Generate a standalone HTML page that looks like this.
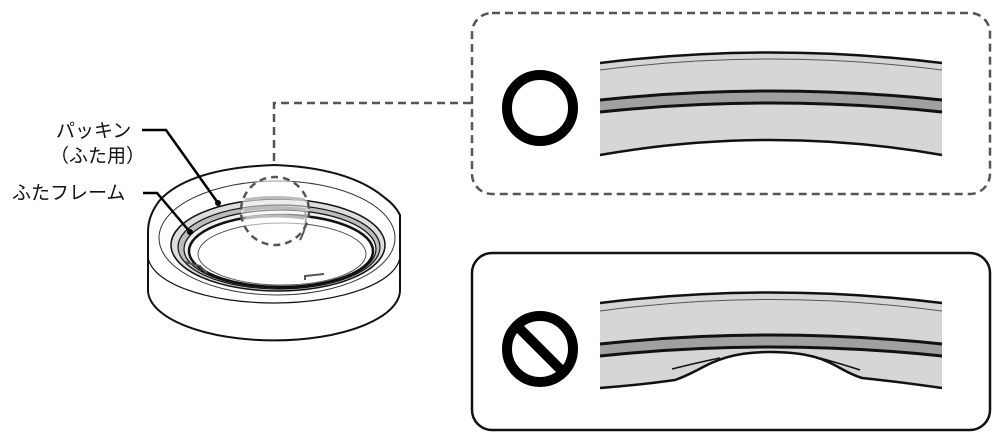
<!DOCTYPE html>
<html><head><meta charset="utf-8"><style>
html,body{margin:0;padding:0;background:#fff;width:1000px;height:444px;overflow:hidden}
text{font-family:"Liberation Sans","Noto Sans CJK JP",sans-serif;font-size:19px;fill:#111}
</style></head><body>
<svg width="1000" height="444" viewBox="0 0 1000 444" xmlns="http://www.w3.org/2000/svg">
<!-- panels -->
<rect x="472" y="13" width="518" height="181" rx="20" fill="none" stroke="#555" stroke-width="2.5" stroke-dasharray="8,5"/>
<rect x="472" y="253" width="518" height="177" rx="20" fill="none" stroke="#111" stroke-width="2.5"/>
<!-- connector -->
<polyline points="471,103 274,103 274,176" fill="none" stroke="#555" stroke-width="2.5" stroke-dasharray="8,5"/>

<!-- top band -->
<path d="M600,63 Q771,42 942,63 L942,155 Q771,125 600,155 Z" fill="#d6d6d6"/>
<path d="M600,63 Q771,42 942,63" fill="none" stroke="#111" stroke-width="2.5"/>
<path d="M600,70 Q771,48 942,70" fill="none" stroke="#555" stroke-width="1"/>
<path d="M600,100 Q771,82 942,100 L942,112 Q771,94 600,112 Z" fill="#a0a0a0"/>
<path d="M600,100 Q771,82 942,100" fill="none" stroke="#111" stroke-width="3"/>
<path d="M600,112 Q771,94 942,112" fill="none" stroke="#111" stroke-width="3"/>
<path d="M600,155 Q771,125 942,155" fill="none" stroke="#111" stroke-width="2.5"/>

<!-- bottom band -->
<path d="M600,303 Q771,282 942,303 L942,388 Q900,382 862,378 C835,370 830,352 770,352 C715,352 705,370 675,380 Q640,385 600,388 Z" fill="#d6d6d6"/>
<path d="M600,303 Q771,282 942,303" fill="none" stroke="#111" stroke-width="2.5"/>
<path d="M600,311 Q771,288 942,311" fill="none" stroke="#555" stroke-width="1"/>
<path d="M600,344 Q771,326 942,344 L942,356 Q771,338 600,356 Z" fill="#a0a0a0"/>
<path d="M600,344 Q771,326 942,344" fill="none" stroke="#111" stroke-width="3"/>
<path d="M600,356 Q771,338 942,356" fill="none" stroke="#111" stroke-width="3"/>
<path d="M600,388 Q640,385 675,380 C705,370 715,352 770,352 C830,352 835,370 862,378 Q900,382 942,388" fill="none" stroke="#111" stroke-width="2.5"/>
<path d="M672,369 Q700,362 720,358" fill="none" stroke="#111" stroke-width="1.5"/>
<path d="M820,358 Q845,365 860,370" fill="none" stroke="#111" stroke-width="1.5"/>

<!-- symbols -->
<circle cx="540" cy="108" r="33" fill="none" stroke="#000" stroke-width="10"/>
<circle cx="540" cy="349" r="33" fill="none" stroke="#000" stroke-width="10"/>
<line x1="517" y1="326" x2="563" y2="372" stroke="#000" stroke-width="10"/>

<!-- lens ring -->
<path d="M148,232 L148,290 A125,50 0 0 0 400,290 L400,215 Q395,205 385,198 Q350,168 275,165 Q190,168 160,200 Q148,215 148,232 Z" fill="#fff" stroke="#111" stroke-width="2"/>
<path d="M148,255 A126,48 0 0 0 400,255" fill="none" stroke="#111" stroke-width="1.2"/>
<ellipse cx="277" cy="238" rx="118" ry="57" fill="none" stroke="#333" stroke-width="1"/>
<ellipse cx="278" cy="245" rx="107" ry="46" fill="#ddd" stroke="#111" stroke-width="1.5"/>
<ellipse cx="279" cy="247" rx="101" ry="42" fill="#bbb" stroke="#111" stroke-width="1.2"/>
<ellipse cx="280" cy="249" rx="96" ry="39" fill="#eee" stroke="#111" stroke-width="1.2"/>
<ellipse cx="281" cy="251" rx="92" ry="36" fill="#fff" stroke="#111" stroke-width="2.5"/>
<ellipse cx="282" cy="254" rx="84" ry="31" fill="none" stroke="#555" stroke-width="1"/>
<path d="M300,240 Q308,225 305,212" fill="none" stroke="#555" stroke-width="2"/>
<path d="M185,262 L200,266 L207,273" fill="none" stroke="#555" stroke-width="2"/>
<path d="M305,280 L305,276 L324,274" fill="none" stroke="#555" stroke-width="2"/>
<!-- dashed circle -->
<circle cx="275" cy="211" r="34" fill="#fff" fill-opacity="0.5" stroke="#555" stroke-width="2.5" stroke-dasharray="7,5"/>
<path d="M245,200 Q275,195 305,200 M244,210 Q275,205 306,210 M246,218 Q275,214 304,218" stroke="#bbb" stroke-width="3" fill="none"/>

<!-- labels -->
<text x="56" y="137">パッキン</text>
<text x="50" y="162">（ふた用）</text>
<text x="12" y="199">ふたフレーム</text>
<polyline points="142,130 166,130 218,203" fill="none" stroke="#000" stroke-width="2.5"/>
<circle cx="218" cy="203" r="3" fill="#000"/>
<polyline points="143,193 157,193 190,232" fill="none" stroke="#000" stroke-width="2.5"/>
<circle cx="190" cy="232" r="3" fill="#000"/>
</svg>
</body></html>
